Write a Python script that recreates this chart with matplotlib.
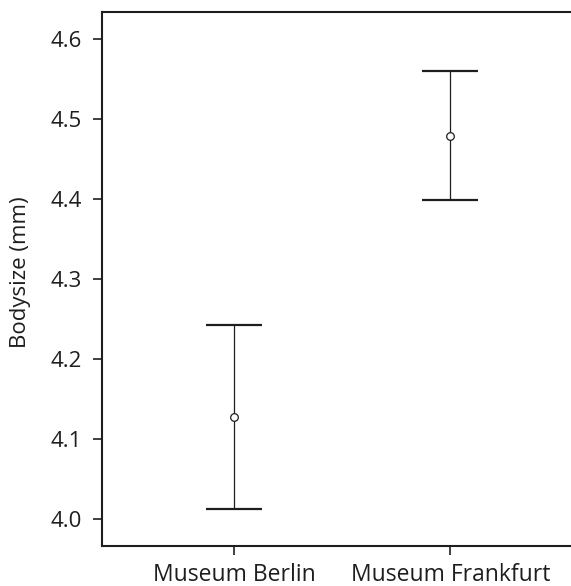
import matplotlib
matplotlib.use("Agg")
import matplotlib.pyplot as plt

# values
museums = ["Museum Berlin", "Museum Frankfurt"]
means = [4.127, 4.479]
upper = [4.242, 4.560]
lower = [4.012, 4.399]
yticks = [4.0, 4.1, 4.2, 4.3, 4.4, 4.5, 4.6]

plt.rcParams["font.family"] = ["Open Sans", "DejaVu Sans"]
INK = "#1e1e1e"

fig = plt.figure(figsize=(5.71, 5.86), dpi=100)
ax = fig.add_axes([0.1786, 0.0683, 0.83, 0.9104])

x = list(range(len(museums)))
err_lo = [m - l for m, l in zip(means, lower)]
err_hi = [u - m for m, u in zip(means, upper)]

ax.errorbar(x, means, yerr=[err_lo, err_hi], fmt="none",
            ecolor=INK, elinewidth=0.9, capsize=20.5, capthick=1.6)
ax.plot(x, means, "o", ms=5.5, mfc="white", mec=INK, mew=0.9, zorder=3)

ax.set_xlim(-0.611, 1.581)
ax.set_ylim(3.966, 4.633)
ax.set_xticks(x)
ax.set_xticklabels(museums, fontsize=16.5, color=INK)
ax.set_yticks(yticks)
ax.set_yticklabels([f"{v:.1f}" for v in yticks], fontsize=16, color=INK)
ax.tick_params(axis="both", direction="out", length=6.5, width=1.2, color=INK)
ax.tick_params(axis="y", pad=8)
ax.tick_params(axis="x", pad=6)
ax.set_ylabel("Bodysize (mm)", fontsize=16, color=INK)
ax.yaxis.set_label_coords(-0.15, 0.514)

for side in ["left", "top", "bottom"]:
    ax.spines[side].set_linewidth(1.5)
    ax.spines[side].set_color(INK)
ax.spines["right"].set_visible(False)

fig.savefig("out.png", dpi=100)
